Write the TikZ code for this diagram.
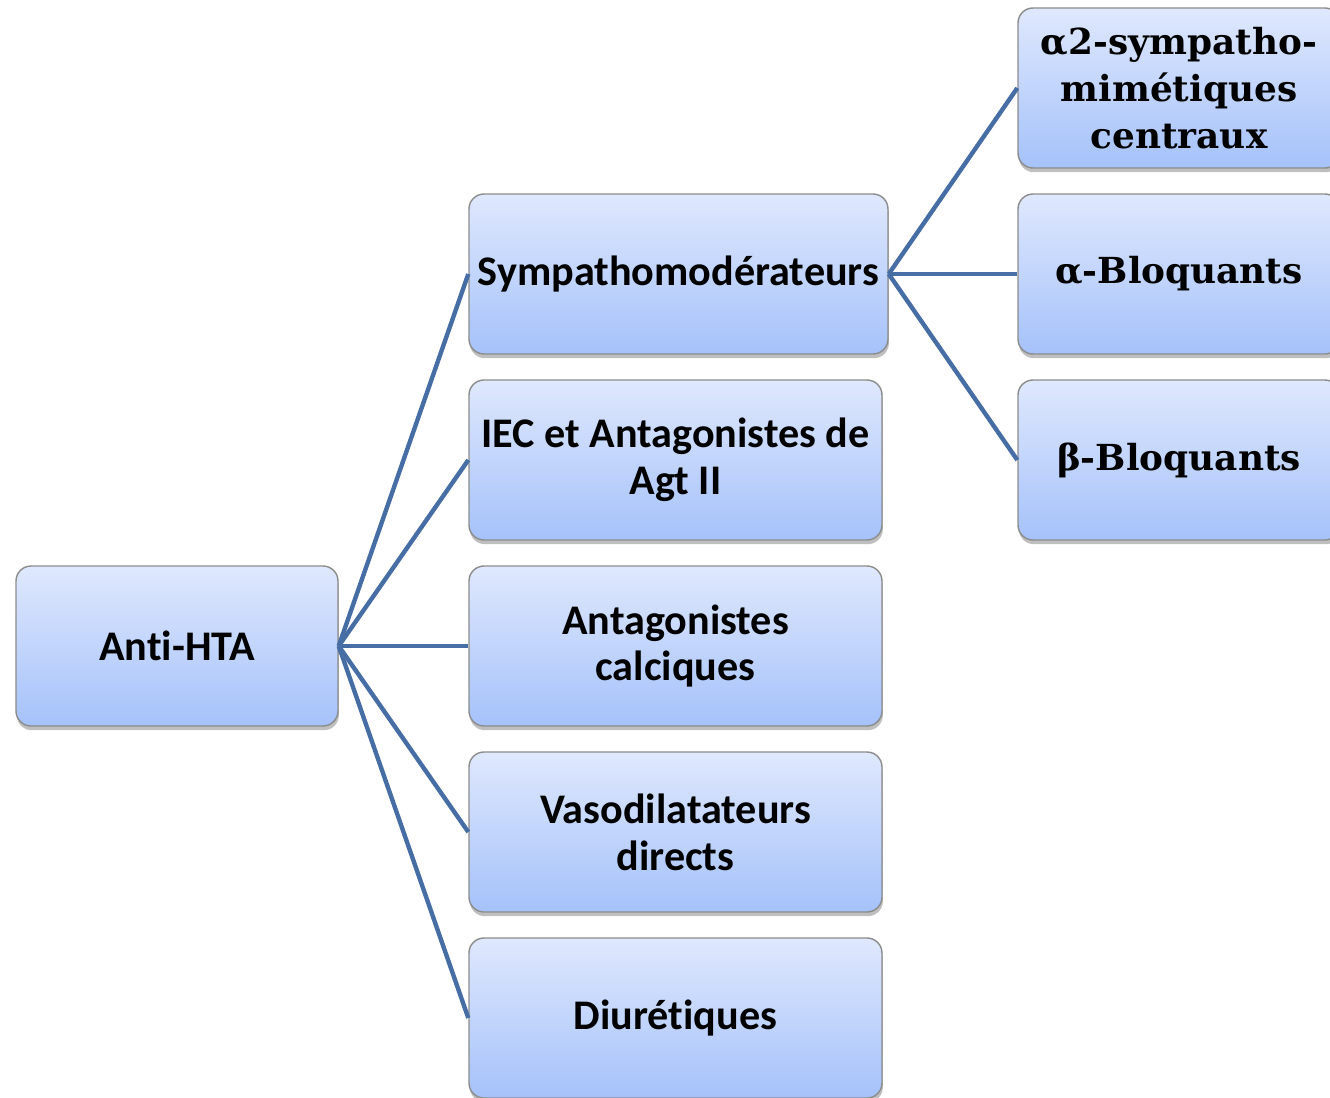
\documentclass[tikz,border=0pt]{standalone}
\usepackage{fontspec}
\setmainfont[Ligatures = NoCommon]{Carlito}
\newfontfamily\boxserif{DejaVu Serif}
\usepackage{tikz}
\usetikzlibrary{shadows}

\definecolor{linkblue}{RGB}{70,110,165}
\definecolor{boxtop}{RGB}{223,232,253}
\definecolor{boxbottom}{RGB}{165,194,250}
\definecolor{boxedge}{RGB}{140,140,140}

\tikzset{
	box/.style = {draw = boxedge, line width = .8pt, rounded corners = .3cm,
		top color = boxtop, bottom color = boxbottom,
		minimum height = 3.2cm, align = center, font = \bfseries\fontsize{24}{26.6}\selectfont,
		drop shadow = {shadow xshift = .5pt, shadow yshift = -2.4pt, fill = black!50, opacity = .5}},
	serifbox/.style = {box, font = \boxserif\bfseries\fontsize{20.4}{26.6}\selectfont},
	link/.style = {draw = linkblue, line width = 2.5pt}
}

\begin{document}
\begin{tikzpicture}
	\useasboundingbox (0,0) rectangle (26.6,-21.96);
	\node [box, minimum width = 6.44cm] (anti) at (3.54,-12.92) {Anti-HTA};
	\node [box, minimum width = 8.38cm] (sympatho) at (13.57,-5.48) {Sympathomodérateurs};
	\node [box, minimum width = 8.26cm] (iec) at (13.51,-9.2) {IEC et Antagonistes de\\Agt II};
	\node [box, minimum width = 8.26cm] (calc) at (13.51,-12.92) {Antagonistes\\calciques};
	\node [box, minimum width = 8.26cm] (vaso) at (13.51,-16.64) {Vasodilatateurs\\directs};
	\node [box, minimum width = 8.26cm] (diur) at (13.51,-20.36) {Diurétiques};
	\node [serifbox, minimum width = 6.44cm] (alphadeux) at (23.58,-1.76) {α2-sympatho-\\mimétiques\\centraux};
	\node [serifbox, minimum width = 6.44cm] (alpha) at (23.58,-5.48) {α-Bloquants};
	\node [serifbox, minimum width = 6.44cm] (beta) at (23.58,-9.2) {β-Bloquants};
	\draw [link] (anti.east) -- (sympatho.west);
	\draw [link] (anti.east) -- (iec.west);
	\draw [link] (anti.east) -- (calc.west);
	\draw [link] (anti.east) -- (vaso.west);
	\draw [link] (anti.east) -- (diur.west);
	\draw [link] (sympatho.east) -- (alphadeux.west);
	\draw [link] (sympatho.east) -- (alpha.west);
	\draw [link] (sympatho.east) -- (beta.west);
\end{tikzpicture}
\end{document}
